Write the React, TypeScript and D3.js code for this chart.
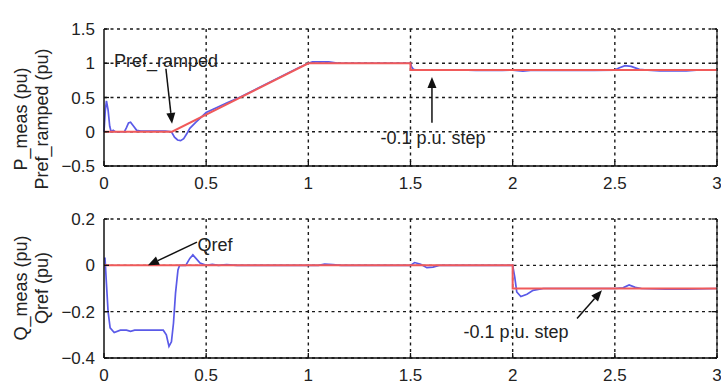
import React from "react";
import * as d3 from "d3";

// Time axis shared by both panels (s)
const timeTicks = [0, 0.5, 1, 1.5, 2, 2.5, 3];
const pTicks = [-0.5, 0, 0.5, 1, 1.5];
const qTicks = [-0.4, -0.2, 0, 0.2];

// Active power reference (ramped) and measured response
const prefRamped: [number, number][] = [
  [0, 0], [0.333, 0], [1.0, 1.0], [1.5, 1.0], [1.5, 0.9], [3.0, 0.9],
];
const pMeas: [number, number][] = [
  [0, 0], [0.006, 0.3], [0.012, 0.45], [0.02, 0.32], [0.028, 0.08], [0.035, 0.0],
  [0.045, 0.02], [0.055, 0.0], [0.1, 0.0], [0.11, 0.06], [0.12, 0.13], [0.13, 0.14],
  [0.145, 0.08], [0.16, 0.02], [0.18, 0.01], [0.3, 0.01], [0.33, 0.0], [0.345, -0.08],
  [0.36, -0.12], [0.375, -0.13], [0.39, -0.1], [0.405, -0.03], [0.42, 0.05], [0.45, 0.14],
  [0.5, 0.28], [0.55, 0.35], [0.6, 0.42], [0.67, 0.51], [0.75, 0.63], [0.85, 0.78],
  [0.95, 0.93], [1.0, 1.0], [1.02, 1.02], [1.1, 1.02], [1.15, 1.0], [1.5, 1.0],
  [1.505, 0.95], [1.515, 0.91], [1.53, 0.9], [1.78, 0.9], [1.82, 0.895], [1.95, 0.895],
  [2.0, 0.9], [2.05, 0.885], [2.1, 0.9], [2.15, 0.895], [2.4, 0.895], [2.5, 0.9],
  [2.52, 0.93], [2.55, 0.965], [2.58, 0.955], [2.62, 0.91], [2.66, 0.9], [2.72, 0.89],
  [2.85, 0.89], [2.9, 0.9], [3.0, 0.9],
];

// Reactive power reference and measured response
const qRef: [number, number][] = [[0, 0], [2.0, 0], [2.0, -0.1], [3.0, -0.1]];
const qMeas: [number, number][] = [
  [0, 0.03], [0.005, 0.03], [0.012, -0.08], [0.02, -0.2], [0.03, -0.27], [0.05, -0.29],
  [0.08, -0.28], [0.11, -0.28], [0.13, -0.285], [0.15, -0.28], [0.2, -0.28], [0.29, -0.28],
  [0.305, -0.3], [0.318, -0.35], [0.33, -0.33], [0.34, -0.25], [0.35, -0.12], [0.362, -0.02],
  [0.37, 0.0], [0.4, 0.0], [0.42, 0.03], [0.435, 0.045], [0.45, 0.03], [0.47, 0.01],
  [0.5, 0.0], [0.53, 0.004], [0.56, 0.0], [0.6, 0.003], [0.65, 0.0], [1.05, 0.0],
  [1.08, 0.005], [1.12, 0.003], [1.16, 0.0], [1.5, 0.0], [1.52, 0.012], [1.55, 0.005],
  [1.58, -0.01], [1.61, -0.008], [1.64, 0.0], [2.0, 0.0], [2.01, -0.05], [2.02, -0.115],
  [2.04, -0.135], [2.07, -0.125], [2.1, -0.108], [2.15, -0.1], [2.5, -0.1], [2.54, -0.097],
  [2.57, -0.085], [2.6, -0.095], [2.63, -0.1], [2.75, -0.103], [2.85, -0.103], [3.0, -0.1],
];

const W = 721;
const H = 389;
const FONT = "'Liberation Sans', Arial, sans-serif";
const BLUE = "#5a5ae8";
const RED = "#f05a5a";

type Note = { text: string; tx: number; ty: number; anchor: string; from: [number, number]; to: [number, number] };

const pNotes: Note[] = [
  { text: "Pref_ramped", tx: 0.303, ty: 1.04, anchor: "middle", from: [0.303, 0.92], to: [0.333, 0.115] },
  { text: "-0.1 p.u. step", tx: 1.61, ty: -0.08, anchor: "middle", from: [1.605, 0.13], to: [1.605, 0.8] },
];
const qNotes: Note[] = [
  { text: "Qref", tx: 0.458, ty: 0.09, anchor: "start", from: [0.455, 0.1], to: [0.215, 0.0] },
  { text: "-0.1 p.u. step", tx: 2.016, ty: -0.285, anchor: "middle", from: [2.315, -0.229], to: [2.437, -0.108] },
];

function Arrow({ x1, y1, x2, y2 }: { x1: number; y1: number; x2: number; y2: number }) {
  const ang = Math.atan2(y2 - y1, x2 - x1);
  const len = 11;
  const half = 4.5;
  const bx = x2 - len * Math.cos(ang);
  const by = y2 - len * Math.sin(ang);
  const px = -Math.sin(ang) * half;
  const py = Math.cos(ang) * half;
  return (
    <g>
      <line x1={x1} y1={y1} x2={bx} y2={by} stroke="#111" strokeWidth={1.5} />
      <polygon points={`${x2},${y2} ${bx + px},${by + py} ${bx - px},${by - py}`} fill="#111" />
    </g>
  );
}

function Panel({
  top, bottom, domain, ticks, blue, red, notes, labels, labelMid,
}: {
  top: number; bottom: number; domain: [number, number]; ticks: number[];
  blue: [number, number][]; red: [number, number][];
  notes: Note[]; labels: [string, string]; labelMid: number;
}) {
  const x = d3.scaleLinear().domain([0, 3]).range([104, 717]);
  const y = d3.scaleLinear().domain(domain).range([bottom, top]);
  const line = d3.line<[number, number]>().x((d) => x(d[0])).y((d) => y(d[1]));
  const fmt = d3.format("");
  const left = x(0);
  const right = x(3);
  return (
    <g>
      {/* dotted grid */}
      {ticks.map((t) => (
        <line key={"h" + t} x1={left} x2={right} y1={y(t)} y2={y(t)} stroke="#1a1a1a" strokeWidth={1.4} strokeDasharray="3,3.5" />
      ))}
      {timeTicks.slice(1).map((t) => (
        <line key={"v" + t} x1={x(t)} x2={x(t)} y1={top} y2={bottom} stroke="#1a1a1a" strokeWidth={1.4} strokeDasharray="3,3.5" />
      ))}
      {/* traces */}
      <path d={line(blue) ?? ""} fill="none" stroke={BLUE} strokeWidth={1.7} />
      <path d={line(red) ?? ""} fill="none" stroke={RED} strokeWidth={2} />
      {/* axes lines */}
      <line x1={left} x2={left} y1={top} y2={bottom} stroke="#111" strokeWidth={1.5} />
      <line x1={left} x2={right} y1={bottom} y2={bottom} stroke="#111" strokeWidth={1.5} />
      <line x1={right} x2={right} y1={top} y2={bottom} stroke="#111" strokeWidth={1.2} />
      {ticks.map((t) => (
        <g key={"yt" + t}>
          <line x1={left} x2={left + 5} y1={y(t)} y2={y(t)} stroke="#111" strokeWidth={1.3} />
          <line x1={right - 5} x2={right} y1={y(t)} y2={y(t)} stroke="#111" strokeWidth={1.3} />
          <text x={left - 9} y={y(t)} dy="0.36em" textAnchor="end" fontFamily={FONT} fontSize={17} fill="#222">
            {fmt(t)}
          </text>
        </g>
      ))}
      {timeTicks.map((t) => (
        <g key={"xt" + t}>
          <line x1={x(t)} x2={x(t)} y1={bottom} y2={bottom - 5} stroke="#111" strokeWidth={1.3} />
          <text x={x(t)} y={bottom + 17} dy="0.36em" textAnchor="middle" fontFamily={FONT} fontSize={17} fill="#222">
            {fmt(t)}
          </text>
        </g>
      ))}
      {/* annotations */}
      {notes.map((n) => (
        <g key={n.text + n.tx}>
          <Arrow x1={x(n.from[0])} y1={y(n.from[1])} x2={x(n.to[0])} y2={y(n.to[1])} />
          <text x={x(n.tx)} y={y(n.ty)} dy="0.36em" textAnchor={n.anchor} fontFamily={FONT} fontSize={18} fill="#222">
            {n.text}
          </text>
        </g>
      ))}
      {/* y-axis labels */}
      <text transform={`translate(27,${labelMid}) rotate(-90)`} textAnchor="middle" fontFamily={FONT} fontSize={18} fill="#222">
        {labels[0]}
      </text>
      <text transform={`translate(48,${labelMid}) rotate(-90)`} textAnchor="middle" fontFamily={FONT} fontSize={18} fill="#222">
        {labels[1]}
      </text>
    </g>
  );
}

export default function App() {
  return (
    <svg width={W} height={H} style={{ position: "absolute", left: 0, top: 0, background: "#fff" }}>
      <rect width={W} height={H} fill="#fff" />
      <Panel top={29} bottom={166} domain={[-0.5, 1.5]} ticks={pTicks} labelMid={119}
        blue={pMeas} red={prefRamped} notes={pNotes} labels={["P_meas (pu)", "Pref_ramped (pu)"]} />
      <Panel top={219} bottom={358} domain={[-0.4, 0.2]} ticks={qTicks} labelMid={288}
        blue={qMeas} red={qRef} notes={qNotes} labels={["Q_meas (pu)", "Qref (pu)"]} />
    </svg>
  );
}
